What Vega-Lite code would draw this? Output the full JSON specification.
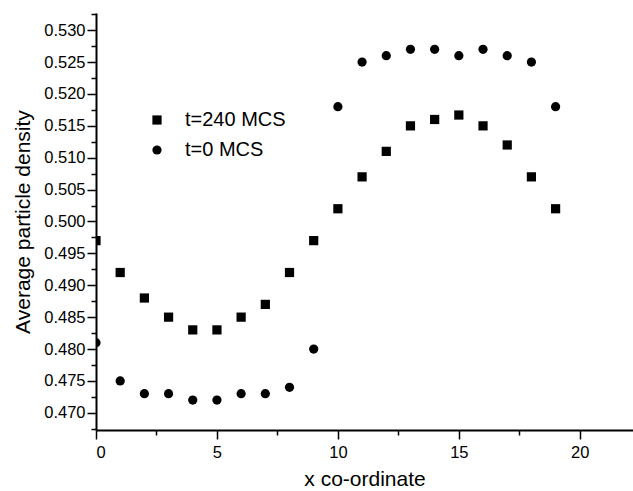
{
  "$schema": "https://vega.github.io/schema/vega-lite/v6.json",
  "width": 537,
  "height": 417,
  "autosize": {"type": "none"},
  "padding": {"left": 96, "top": 13, "right": 0, "bottom": 61},
  "background": "white",
  "config": {
    "view": {"stroke": null},
    "font": "Liberation Sans",
    "axis": {
      "grid": false,
      "domainColor": "black",
      "domainWidth": 2,
      "tickColor": "black",
      "tickWidth": 1.5,
      "labelColor": "black",
      "labelFont": "Liberation Sans",
      "labelFontSize": 16.5,
      "titleFont": "Liberation Sans",
      "titleFontWeight": "normal",
      "titleColor": "black",
      "titleFontSize": 21
    },
    "legend": {
      "labelFont": "Liberation Sans",
      "labelFontSize": 20,
      "labelColor": "black"
    }
  },
  "data": {
    "values": [
      {"x": 0, "d": 0.497, "s": "t=240 MCS"},
      {"x": 1, "d": 0.492, "s": "t=240 MCS"},
      {"x": 2, "d": 0.488, "s": "t=240 MCS"},
      {"x": 3, "d": 0.485, "s": "t=240 MCS"},
      {"x": 4, "d": 0.483, "s": "t=240 MCS"},
      {"x": 5, "d": 0.483, "s": "t=240 MCS"},
      {"x": 6, "d": 0.485, "s": "t=240 MCS"},
      {"x": 7, "d": 0.487, "s": "t=240 MCS"},
      {"x": 8, "d": 0.492, "s": "t=240 MCS"},
      {"x": 9, "d": 0.497, "s": "t=240 MCS"},
      {"x": 10, "d": 0.502, "s": "t=240 MCS"},
      {"x": 11, "d": 0.507, "s": "t=240 MCS"},
      {"x": 12, "d": 0.511, "s": "t=240 MCS"},
      {"x": 13, "d": 0.515, "s": "t=240 MCS"},
      {"x": 14, "d": 0.516, "s": "t=240 MCS"},
      {"x": 15, "d": 0.5167, "s": "t=240 MCS"},
      {"x": 16, "d": 0.515, "s": "t=240 MCS"},
      {"x": 17, "d": 0.512, "s": "t=240 MCS"},
      {"x": 18, "d": 0.507, "s": "t=240 MCS"},
      {"x": 19, "d": 0.502, "s": "t=240 MCS"},
      {"x": 0, "d": 0.481, "s": "t=0 MCS"},
      {"x": 1, "d": 0.475, "s": "t=0 MCS"},
      {"x": 2, "d": 0.473, "s": "t=0 MCS"},
      {"x": 3, "d": 0.473, "s": "t=0 MCS"},
      {"x": 4, "d": 0.472, "s": "t=0 MCS"},
      {"x": 5, "d": 0.472, "s": "t=0 MCS"},
      {"x": 6, "d": 0.473, "s": "t=0 MCS"},
      {"x": 7, "d": 0.473, "s": "t=0 MCS"},
      {"x": 8, "d": 0.474, "s": "t=0 MCS"},
      {"x": 9, "d": 0.480, "s": "t=0 MCS"},
      {"x": 10, "d": 0.518, "s": "t=0 MCS"},
      {"x": 11, "d": 0.525, "s": "t=0 MCS"},
      {"x": 12, "d": 0.526, "s": "t=0 MCS"},
      {"x": 13, "d": 0.527, "s": "t=0 MCS"},
      {"x": 14, "d": 0.527, "s": "t=0 MCS"},
      {"x": 15, "d": 0.526, "s": "t=0 MCS"},
      {"x": 16, "d": 0.527, "s": "t=0 MCS"},
      {"x": 17, "d": 0.526, "s": "t=0 MCS"},
      {"x": 18, "d": 0.525, "s": "t=0 MCS"},
      {"x": 19, "d": 0.518, "s": "t=0 MCS"}
    ]
  },
  "mark": {"type": "point", "filled": true, "size": 85, "opacity": 1, "clip": true, "color": "black"},
  "encoding": {
    "x": {
      "field": "x",
      "type": "quantitative",
      "scale": {"domain": [0, 22.2], "nice": false, "zero": false},
      "axis": {
        "title": "x co-ordinate",
        "values": [0, 2.5, 5, 7.5, 10, 12.5, 15, 17.5, 20],
        "labelExpr": "datum.value % 5 == 0 ? format(datum.value, 'd') : ''",
        "tickSize": {"condition": {"test": "datum.value % 5 == 0", "value": 9}, "value": 5},
        "labelPadding": 5,
        "titlePadding": 8
      }
    },
    "y": {
      "field": "d",
      "type": "quantitative",
      "scale": {"domain": [0.4673, 0.5327], "nice": false, "zero": false},
      "axis": {
        "title": "Average particle density",
        "values": [0.4675, 0.47, 0.4725, 0.475, 0.4775, 0.48, 0.4825, 0.485, 0.4875, 0.49, 0.4925, 0.495, 0.4975, 0.5, 0.5025, 0.505, 0.5075, 0.51, 0.5125, 0.515, 0.5175, 0.52, 0.5225, 0.525, 0.5275, 0.53, 0.5325],
        "labelExpr": "abs(datum.value*200 - round(datum.value*200)) < 0.01 ? format(datum.value, '.3f') : ''",
        "tickSize": {"condition": {"test": "abs(datum.value*200 - round(datum.value*200)) < 0.01", "value": 9}, "value": 5},
        "labelPadding": 2,
        "titlePadding": 10
      }
    },
    "shape": {
      "field": "s",
      "type": "nominal",
      "scale": {"domain": ["t=240 MCS", "t=0 MCS"], "range": ["square", "circle"]},
      "legend": {
        "title": null,
        "orient": "none",
        "legendX": 51,
        "legendY": 97,
        "symbolSize": 85,
        "symbolFillColor": "black",
        "symbolStrokeColor": "black",
        "symbolType": "circle",
        "labelOffset": 18,
        "rowPadding": 10,
        "padding": 0
      }
    }
  }
}
